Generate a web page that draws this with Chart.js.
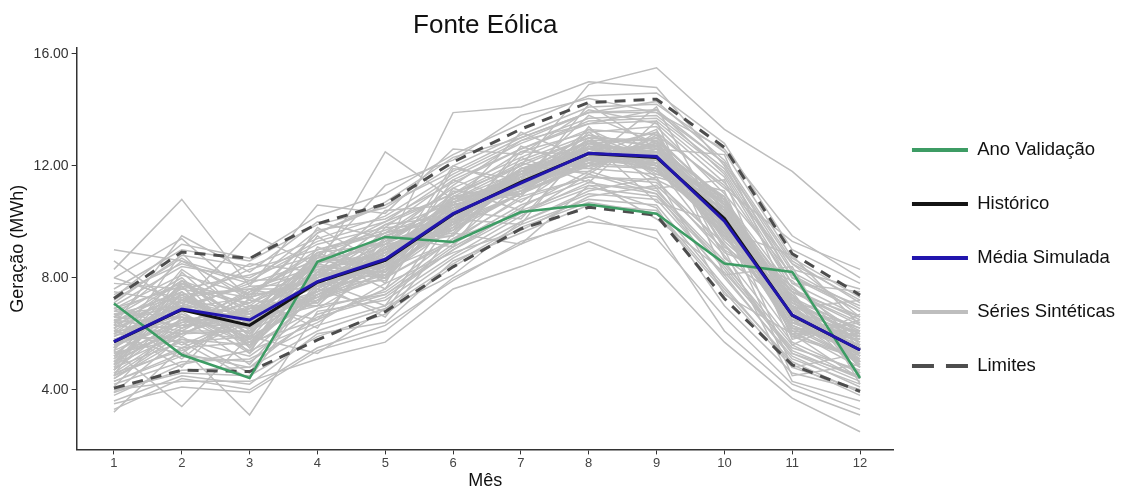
<!DOCTYPE html>
<html lang="pt">
  <head>
    <meta charset="UTF-8" />
    <title>Fonte Eólica</title>
    <script src="https://cdn.jsdelivr.net/npm/chart.js@4.4.0/dist/chart.umd.min.js"></script>
    <style>
      body { margin: 0; background: #fff; }
      #wrap { width: 1125px; height: 491px; position: relative; }
    </style>
  </head>
  <body>
    <div id="wrap"><canvas id="chart"></canvas></div>
    <script>
      // meses
      const meses = [1, 2, 3, 4, 5, 6, 7, 8, 9, 10, 11, 12];
      const yTicks = [4, 8, 12, 16];

      // series principais (MWh)
      const anoValidacao = [7.08, 5.25, 4.42, 8.57, 9.46, 9.28, 10.35, 10.62, 10.29, 8.51, 8.21, 4.42];
      const historico    = [5.71, 6.86, 6.30, 7.84, 8.62, 10.27, 11.42, 12.44, 12.30, 10.12, 6.66, 5.42];
      const mediaSimul   = [5.72, 6.88, 6.49, 7.86, 8.66, 10.29, 11.38, 12.45, 12.33, 10.02, 6.67, 5.42];
      const limSup       = [7.26, 8.92, 8.69, 9.93, 10.64, 12.13, 13.31, 14.26, 14.38, 12.66, 8.86, 7.38];
      const limInf       = [4.06, 4.70, 4.65, 5.78, 6.79, 8.39, 9.75, 10.52, 10.23, 7.26, 4.89, 3.94];

      // series sinteticas (amostra)
      const sinteticas = [
        [5.2, 6.1, 5.8, 7.4, 8.1, 9.8, 11.0, 12.1, 11.9, 9.6, 6.2, 5.0],
        [6.4, 7.6, 7.1, 8.5, 9.3, 10.9, 12.1, 13.0, 12.9, 10.8, 7.3, 6.1],
        [4.3, 5.2, 5.0, 6.6, 7.3, 9.0, 10.3, 11.2, 10.9, 8.4, 5.4, 4.4],
        [7.0, 8.4, 8.0, 9.3, 10.0, 11.6, 12.8, 13.7, 13.8, 11.9, 8.2, 6.9],
        [5.8, 5.3, 6.9, 7.0, 9.1, 9.5, 11.8, 11.8, 13.1, 9.1, 7.4, 4.8],
        [4.7, 7.9, 5.5, 8.8, 7.6, 11.2, 10.4, 13.4, 11.2, 11.5, 5.8, 6.5],
        [6.9, 6.2, 7.6, 7.1, 9.8, 9.9, 12.5, 12.4, 12.0, 8.9, 7.9, 5.6],
        [3.9, 5.9, 4.6, 7.9, 7.0, 10.4, 10.1, 12.7, 11.5, 10.3, 4.8, 5.3],
        [5.5, 8.9, 6.3, 9.8, 8.4, 12.0, 11.2, 14.2, 12.6, 12.4, 6.9, 7.2],
        [6.2, 4.8, 7.3, 6.2, 9.5, 9.1, 12.3, 11.4, 13.6, 8.1, 8.4, 4.2],
        [7.5, 7.1, 8.5, 8.2, 10.4, 10.6, 13.2, 12.2, 14.1, 9.7, 8.8, 6.3],
        [4.1, 6.6, 4.9, 7.6, 6.8, 10.1, 9.9, 12.9, 10.7, 9.9, 4.5, 4.9],
        [5.0, 7.3, 6.0, 8.6, 8.8, 10.7, 11.6, 12.6, 12.4, 10.0, 6.6, 5.7],
        [6.7, 5.6, 6.6, 7.3, 8.0, 9.4, 10.8, 11.6, 11.4, 9.2, 5.9, 5.1],
        [3.6, 4.5, 4.2, 6.0, 6.4, 8.6, 9.6, 10.6, 10.4, 7.6, 5.0, 3.9],
        [7.3, 9.2, 8.7, 10.2, 11.0, 12.4, 13.5, 14.5, 14.6, 12.8, 9.0, 7.8],
        [5.9, 6.8, 7.9, 8.0, 9.9, 10.2, 11.3, 13.3, 12.2, 10.9, 6.4, 5.9],
        [4.9, 7.7, 5.3, 9.1, 8.2, 11.5, 10.7, 12.3, 13.3, 8.7, 7.0, 4.6],
        [6.5, 5.1, 7.0, 6.5, 9.0, 9.7, 12.7, 11.9, 11.7, 11.1, 5.6, 6.7],
        [4.5, 8.2, 6.1, 9.5, 7.8, 11.9, 11.5, 13.8, 12.8, 9.4, 7.7, 5.5],
        [9.0, 8.6, 7.4, 8.9, 9.6, 10.5, 11.9, 12.8, 13.0, 10.6, 7.1, 6.0],
        [3.2, 5.5, 3.1, 6.8, 7.2, 8.8, 10.2, 11.7, 11.0, 8.0, 5.2, 4.1],
        [8.3, 10.8, 7.7, 10.6, 10.3, 12.6, 12.4, 14.0, 13.5, 11.4, 8.5, 6.6],
        [5.4, 3.4, 5.9, 5.3, 6.9, 8.1, 10.0, 11.1, 11.6, 7.4, 6.0, 4.4],
        [6.0, 7.0, 9.6, 8.4, 12.5, 10.8, 12.0, 14.9, 15.5, 13.3, 11.8, 9.7],
        [4.0, 4.3, 4.3, 5.1, 5.7, 7.6, 8.4, 9.3, 8.3, 5.7, 3.7, 2.5],
        [5.6, 6.4, 6.7, 7.7, 8.6, 10.3, 11.1, 12.0, 12.5, 10.2, 6.8, 5.2],
        [6.6, 7.5, 5.6, 8.1, 9.2, 11.0, 12.2, 13.1, 12.7, 9.8, 7.5, 6.4],
        [4.4, 6.0, 6.8, 7.2, 8.0, 9.3, 11.4, 12.5, 11.8, 10.5, 6.1, 5.8],
        [7.2, 8.7, 7.2, 9.6, 10.6, 11.8, 13.0, 13.9, 14.3, 12.2, 8.6, 7.1],
        [5.3, 5.8, 5.2, 6.9, 7.5, 9.2, 10.6, 11.5, 10.1, 8.2, 5.5, 4.7],
        [6.3, 9.5, 8.2, 10.0, 9.4, 11.3, 12.9, 13.5, 14.0, 11.7, 7.8, 7.5],
        [3.8, 4.9, 5.4, 6.4, 7.8, 8.9, 9.7, 10.9, 11.3, 9.0, 4.3, 3.6],
        [8.0, 7.2, 8.3, 9.0, 9.7, 10.7, 11.7, 12.6, 13.2, 11.2, 9.3, 8.3],
        [5.1, 6.5, 6.2, 7.5, 8.3, 10.0, 11.0, 12.2, 12.1, 9.5, 6.3, 5.4],
        [6.8, 7.8, 6.5, 8.7, 11.3, 12.2, 13.8, 14.4, 13.9, 12.6, 9.5, 8.0],
        [4.8, 5.7, 4.4, 7.8, 6.6, 9.6, 9.2, 11.3, 10.5, 7.0, 4.6, 4.0],
        [6.1, 6.3, 7.5, 8.3, 8.9, 10.4, 11.8, 12.9, 12.3, 10.7, 7.2, 6.2],
        [5.7, 7.4, 5.7, 8.0, 9.0, 13.9, 14.1, 15.0, 14.8, 12.0, 8.0, 6.8],
        [4.6, 5.4, 6.4, 7.0, 7.4, 9.0, 10.5, 11.8, 11.1, 8.6, 5.3, 4.5],
        [5.9, 7.1, 6.2, 8.1, 8.4, 10.6, 11.2, 12.7, 12.0, 10.4, 6.4, 5.6],
        [5.4, 6.5, 6.8, 7.5, 8.9, 9.9, 11.7, 12.1, 12.6, 9.7, 6.9, 5.1],
        [6.3, 7.4, 6.0, 8.4, 8.2, 10.9, 11.0, 13.0, 11.7, 10.8, 6.1, 5.9],
        [4.9, 6.0, 7.0, 7.1, 9.2, 9.6, 11.9, 11.9, 12.9, 9.3, 7.2, 4.8],
        [6.6, 8.0, 5.9, 8.9, 8.0, 11.1, 10.9, 13.2, 11.6, 10.9, 5.9, 6.4],
        [4.6, 6.2, 7.2, 7.0, 9.4, 9.5, 12.1, 11.7, 13.2, 9.0, 7.5, 4.5],
        [6.1, 5.5, 6.5, 8.6, 8.7, 10.0, 11.5, 12.3, 12.2, 10.1, 6.7, 5.5],
        [5.1, 7.8, 6.9, 7.3, 8.5, 10.8, 11.3, 12.8, 12.5, 10.6, 6.5, 6.1],
        [6.8, 6.6, 5.4, 8.2, 9.5, 10.2, 11.8, 12.4, 12.8, 9.5, 7.0, 5.0],
        [5.6, 7.0, 7.7, 7.8, 7.9, 10.5, 11.1, 12.6, 11.9, 10.3, 6.2, 5.8],
        [4.4, 5.8, 5.6, 6.9, 8.3, 9.3, 10.9, 11.6, 11.5, 8.8, 5.7, 4.6],
        [6.9, 8.1, 7.4, 9.0, 9.6, 11.2, 12.3, 13.3, 13.1, 11.3, 7.8, 6.6],
        [5.3, 6.7, 5.7, 7.6, 8.8, 10.1, 11.6, 12.2, 12.7, 10.0, 6.3, 5.3],
        [6.2, 7.2, 6.6, 8.3, 8.1, 10.7, 11.2, 12.9, 11.8, 10.7, 7.1, 5.7],
        [4.2, 5.0, 5.1, 6.3, 7.0, 8.7, 10.0, 11.0, 10.8, 8.1, 5.1, 4.2],
        [7.1, 8.8, 8.4, 9.4, 10.2, 11.7, 12.9, 13.9, 13.9, 12.1, 8.5, 7.2],
        [5.5, 6.9, 7.3, 7.9, 9.0, 10.4, 11.4, 12.5, 12.1, 10.4, 6.6, 5.6],
        [6.5, 6.1, 6.1, 8.0, 8.7, 9.8, 11.5, 12.2, 12.6, 9.9, 6.9, 5.2],
        [4.8, 7.5, 5.8, 7.2, 8.4, 10.9, 11.0, 12.8, 12.0, 10.2, 6.0, 6.0],
        [5.8, 5.9, 7.5, 8.7, 9.3, 10.0, 11.9, 12.0, 12.9, 9.6, 7.3, 4.9],
        [6.4, 7.9, 6.3, 7.4, 8.6, 10.6, 11.3, 12.6, 12.4, 10.5, 6.5, 5.9],
        [5.0, 6.3, 6.6, 8.5, 8.0, 10.3, 11.7, 12.3, 11.9, 9.8, 6.8, 5.3],
        [6.0, 7.7, 5.5, 7.7, 9.4, 9.7, 11.0, 12.7, 12.6, 10.9, 6.2, 5.6],
        [5.2, 6.4, 7.1, 8.1, 8.5, 10.8, 11.8, 12.4, 12.2, 9.4, 7.4, 5.0],
        [7.4, 8.5, 7.8, 9.7, 10.1, 11.4, 12.6, 13.6, 13.7, 11.8, 8.0, 7.0],
        [3.9, 4.7, 4.8, 6.1, 6.9, 8.5, 9.9, 10.8, 10.6, 7.7, 4.9, 3.8],
        [5.7, 7.2, 6.4, 7.8, 8.9, 10.3, 11.2, 12.1, 12.8, 10.3, 6.4, 5.5],
        [6.3, 6.0, 6.9, 8.4, 8.2, 10.0, 11.6, 12.9, 11.8, 10.0, 7.0, 6.2],
        [4.7, 6.8, 5.3, 7.4, 8.7, 10.6, 11.1, 12.4, 12.4, 10.6, 6.1, 4.8],
        [6.7, 7.3, 7.6, 7.6, 9.1, 9.8, 11.9, 12.2, 12.1, 9.7, 7.1, 5.9],
        [5.4, 8.3, 6.7, 8.8, 8.3, 10.9, 11.4, 12.6, 12.7, 10.8, 6.6, 5.2],
        [6.0, 5.7, 5.9, 7.2, 9.1, 10.2, 11.3, 12.3, 12.4, 9.2, 6.8, 6.0],
        [7.8, 7.6, 8.1, 8.8, 10.0, 11.0, 12.5, 13.2, 13.4, 11.0, 8.1, 6.8],
        [4.3, 5.3, 4.8, 6.7, 7.4, 9.1, 10.4, 11.3, 11.2, 8.3, 5.3, 4.3],
        [5.8, 6.6, 6.3, 8.0, 8.6, 10.4, 11.5, 12.5, 12.3, 10.1, 6.7, 5.5],
        [6.6, 8.6, 7.9, 9.2, 9.8, 11.5, 12.6, 13.5, 13.6, 11.6, 7.6, 6.5],
        [4.5, 5.5, 5.7, 6.5, 7.6, 9.4, 10.3, 11.4, 11.0, 8.5, 5.6, 4.4],
        [7.6, 9.0, 8.6, 9.9, 10.5, 12.0, 13.1, 14.1, 14.2, 12.5, 8.7, 7.3],
        [4.0, 4.6, 4.5, 5.9, 6.7, 8.4, 9.8, 10.7, 10.3, 7.5, 4.8, 4.0],
        [5.5, 7.0, 6.2, 7.9, 8.7, 10.2, 11.5, 12.4, 12.2, 10.0, 6.6, 5.4],
        [8.6, 6.9, 7.8, 8.6, 9.9, 11.0, 12.0, 13.0, 12.7, 10.6, 7.5, 6.6],
        [8.0, 9.4, 7.3, 9.6, 10.7, 12.3, 13.0, 13.9, 14.0, 12.1, 8.3, 7.6],
        [3.5, 4.1, 3.9, 5.4, 6.1, 8.0, 9.2, 10.2, 9.4, 6.6, 4.2, 3.3],
        [3.3, 4.4, 4.0, 5.5, 6.3, 7.9, 9.3, 10.0, 9.7, 6.1, 4.0, 3.1],
        [5.6, 6.9, 6.6, 7.7, 8.5, 10.1, 11.3, 12.3, 12.4, 10.2, 6.5, 5.3],
        [6.1, 7.5, 6.0, 8.2, 9.0, 10.5, 11.7, 12.7, 12.5, 10.6, 7.0, 5.8],
        [5.0, 6.2, 6.9, 7.4, 8.3, 9.9, 11.0, 12.0, 11.9, 9.6, 6.3, 5.0],
        [6.5, 7.0, 5.8, 8.5, 9.2, 10.7, 11.6, 12.9, 12.9, 10.4, 7.2, 5.9],
        [4.7, 6.5, 6.5, 7.9, 8.1, 10.0, 11.4, 12.2, 12.0, 9.9, 6.0, 5.1],
        [6.9, 7.7, 7.3, 8.0, 9.5, 10.4, 11.8, 12.6, 12.7, 10.8, 7.6, 6.0],
        [5.3, 6.0, 6.1, 7.3, 8.9, 10.8, 11.2, 12.4, 12.2, 9.7, 6.7, 5.7],
        [6.2, 7.9, 7.0, 8.6, 8.4, 9.7, 11.5, 12.0, 12.6, 10.5, 6.4, 5.4],
        [5.8, 6.7, 5.6, 7.6, 9.3, 10.6, 11.0, 12.8, 12.3, 10.2, 7.3, 5.0],
        [4.9, 7.2, 6.8, 8.2, 8.0, 10.2, 11.9, 12.5, 11.8, 9.8, 6.2, 6.1],
        [6.6, 6.3, 6.3, 7.5, 8.8, 10.9, 11.3, 12.1, 13.0, 10.7, 6.9, 5.5],
        [5.2, 7.4, 7.6, 8.4, 8.6, 9.9, 11.6, 12.9, 12.1, 9.5, 7.0, 5.2],
        [6.4, 6.6, 5.9, 7.2, 8.2, 10.5, 11.1, 12.3, 12.5, 10.3, 6.2, 5.8],
        [5.5, 7.8, 6.4, 8.9, 9.2, 10.3, 11.9, 12.6, 12.0, 10.9, 6.8, 5.3],
        [4.5, 6.1, 7.4, 7.7, 8.4, 10.7, 11.4, 12.0, 12.8, 9.9, 6.5, 4.9],
        [6.7, 7.0, 6.7, 8.1, 9.6, 10.1, 11.7, 13.1, 12.2, 10.1, 7.5, 6.3]
      ];

      const pts = arr => arr.map((v, i) => ({x: meses[i], y: v}));
      const fonte = 'Liberation Sans, Arial, sans-serif';

      const datasets = [];
      sinteticas.forEach(s => {
        datasets.push({
          label: 'Séries Sintéticas', data: pts(s), borderColor: '#bebebe',
          borderWidth: 1.5, pointRadius: 0, order: 10
        });
      });
      datasets.push({label: 'Limites', data: pts(limSup), borderColor: '#4d4d4d', borderWidth: 3, borderDash: [11, 8], pointRadius: 0, order: 4});
      datasets.push({label: 'Limites', data: pts(limInf), borderColor: '#4d4d4d', borderWidth: 3, borderDash: [11, 8], pointRadius: 0, order: 4});
      datasets.push({label: 'Ano Validação', data: pts(anoValidacao), borderColor: '#3d9c64', borderWidth: 2.5, pointRadius: 0, order: 3});
      datasets.push({label: 'Histórico', data: pts(historico), borderColor: '#141414', borderWidth: 3, pointRadius: 0, order: 2});
      datasets.push({label: 'Média Simulada', data: pts(mediaSimul), borderColor: '#2115ad', borderWidth: 3, pointRadius: 0, order: 1});

      const legendItems = [
        {text: 'Ano Validação', cor: '#3d9c64', dash: []},
        {text: 'Histórico', cor: '#141414', dash: []},
        {text: 'Média Simulada', cor: '#2115ad', dash: []},
        {text: 'Séries Sintéticas', cor: '#bebebe', dash: []},
        {text: 'Limites', cor: '#4d4d4d', dash: [22, 12]}
      ];

      const ctx = document.getElementById('chart').getContext('2d');
      new Chart(ctx, {
        type: 'line',
        data: {datasets: datasets},
        options: {
          responsive: true,
          maintainAspectRatio: false,
          animation: false,
          layout: {padding: {left: 7, right: 0, top: 4, bottom: 1}},
          plugins: {
            tooltip: {enabled: false},
            title: {
              display: true, text: 'Fonte Eólica', fullSize: false,
              color: '#111', font: {family: fonte, size: 26, weight: 'normal'},
              padding: {top: 6, bottom: 7}
            },
            legend: {
              position: 'right',
              title: {display: true, text: ' ', font: {size: 10}, padding: {top: 14, bottom: 13.5}},
              labels: {
                usePointStyle: true, pointStyleWidth: 56, padding: 18,
                color: '#111', font: {family: fonte, size: 18.5, lineHeight: 1.946},
                // texto em lista: a altura da linha define o espaçamento
                generateLabels: () => legendItems.map(it => ({
                  text: [it.text], strokeStyle: it.cor, fillStyle: it.cor,
                  lineWidth: 4, lineDash: it.dash, pointStyle: 'line', fontColor: '#111'
                }))
              }
            }
          },
          scales: {
            x: {
              type: 'linear', min: 0.45, max: 12.5,
              afterBuildTicks: s => { s.ticks = meses.map(v => ({value: v})); },
              grid: {display: true, drawOnChartArea: false, drawTicks: true, tickLength: 5, color: '#333'},
              border: {color: '#333', width: 1.5},
              ticks: {color: '#444', font: {family: fonte, size: 13}, padding: 1},
              title: {display: true, text: 'Mês', color: '#111', font: {family: fonte, size: 18, lineHeight: 1}, padding: 0}
            },
            y: {
              type: 'linear', min: 1.87, max: 16.2,
              afterBuildTicks: s => { s.ticks = yTicks.map(v => ({value: v})); },
              grid: {display: true, drawOnChartArea: false, drawTicks: true, tickLength: 5, color: '#333'},
              border: {color: '#333', width: 1.5},
              ticks: {color: '#333', font: {family: fonte, size: 14}, padding: 3,
                      callback: v => v.toFixed(2)},
              title: {display: true, text: 'Geração (MWh)', color: '#111', font: {family: fonte, size: 18}, padding: {top: 0, bottom: 2}}
            }
          }
        }
      });
    </script>
  </body>
</html>
